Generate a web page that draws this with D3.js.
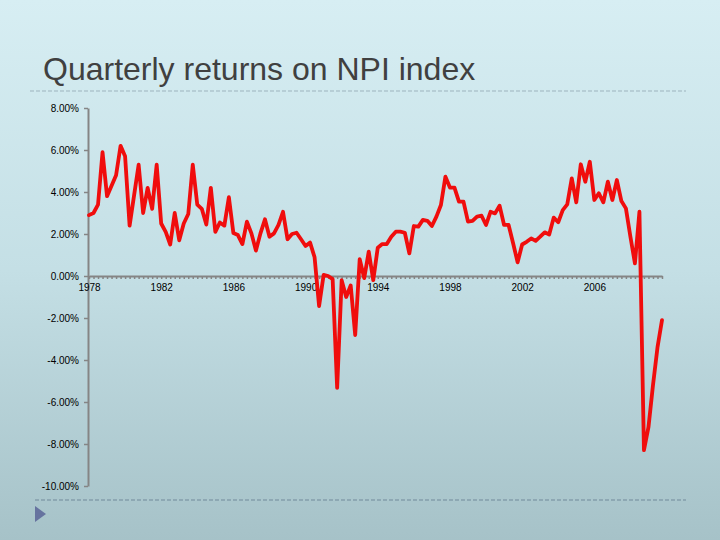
<!DOCTYPE html>
<html>
<head>
<meta charset="utf-8">
<script src="https://cdn.jsdelivr.net/npm/d3@7"></script>
<style>
  html, body { margin: 0; padding: 0; }
  svg { display: block; }
</style>
</head>
<body>
<div id="chart"></div>
<script>
// ---- data ----
const years = d3.range(1978, 2010);
const categories = years.flatMap(y => ["Q1", "Q2", "Q3", "Q4"].map(q => y + q));
const returnsPct = [
  2.9, 3.0, 3.4, 5.9, 3.8, 4.3, 4.8, 6.2, 5.7, 2.4, 3.85, 5.3, 3.0, 4.2, 3.2, 5.3,
  2.5, 2.1, 1.5, 3.0, 1.7, 2.5, 2.95, 5.3, 3.4, 3.2, 2.45, 4.2, 2.1, 2.55, 2.4, 3.75,
  2.05, 1.95, 1.52, 2.59, 2.03, 1.21, 2.03, 2.7, 1.87, 2.03, 2.43, 3.06, 1.75, 2.0, 2.06, 1.75,
  1.43, 1.59, 0.89, -1.43, 0.05, 0.0, -0.15, -5.33, -0.2, -1.0, -0.45, -2.81, 0.8, -0.1, 1.16, -0.2,
  1.35, 1.52, 1.52, 1.87, 2.11, 2.11, 2.06, 1.08, 2.38, 2.35, 2.67, 2.63, 2.38, 2.83, 3.38, 4.73,
  4.21, 4.21, 3.54, 3.54, 2.59, 2.62, 2.83, 2.87, 2.43, 3.06, 2.98, 3.35, 2.43, 2.43, 1.56, 0.65,
  1.5, 1.63, 1.79, 1.67, 1.87, 2.08, 1.98, 2.78, 2.56, 3.14, 3.41, 4.65, 3.51, 5.32, 4.49, 5.44,
  3.62, 3.94, 3.51, 4.49, 3.62, 4.57, 3.57, 3.22, 1.87, 0.6, 3.06, -8.29, -7.2, -5.2, -3.4, -2.1
];
const yTicks = [8, 6, 4, 2, 0, -2, -4, -6, -8, -10];
const xTickCats = ["1978Q1", "1982Q1", "1986Q1", "1990Q1", "1994Q1", "1998Q1", "2002Q1", "2006Q1"];
const xTickLabels = ["1978", "1982", "1986", "1990", "1994", "1998", "2002", "2006"];
const title = "Quarterly returns on NPI index";

// ---- drawing ----
const W = 720, H = 540;
const svg = d3.select("#chart").append("svg").attr("width", W).attr("height", H);

const defs = svg.append("defs");
const grad = defs.append("linearGradient").attr("id", "bg")
  .attr("x1", 0).attr("y1", 0).attr("x2", 0).attr("y2", 1);
grad.append("stop").attr("offset", "0%").attr("stop-color", "#d7eef3");
grad.append("stop").attr("offset", "50%").attr("stop-color", "#c4dfe5");
grad.append("stop").attr("offset", "100%").attr("stop-color", "#a6c2c8");
svg.append("rect").attr("width", W).attr("height", H).attr("fill", "url(#bg)");

const font = "Liberation Sans, Arial, sans-serif";

// title
svg.append("text")
  .attr("x", 43).attr("y", 80)
  .attr("font-family", font)
  .attr("font-size", 32)
  .attr("fill", "#404040")
  .text(title);

// dashed separators
svg.append("line").attr("x1", 30).attr("x2", 686).attr("y1", 91).attr("y2", 91)
  .attr("stroke", "#9db3bd").attr("stroke-width", 1).attr("stroke-dasharray", "4,2");
svg.append("line").attr("x1", 35).attr("x2", 686).attr("y1", 500).attr("y2", 500)
  .attr("stroke", "#71899a").attr("stroke-width", 1).attr("stroke-dasharray", "4,2");
// bullet triangle
svg.append("path").attr("d", "M35,506L46,514L35,522Z").attr("fill", "#66739f");

const x = d3.scalePoint().domain(categories).range([89, 662]);
const y = d3.scaleLinear().domain([-10, 8]).range([486, 108]);

const axisColor = "#858585";

// y axis
const yAxis = svg.append("g").attr("transform", "translate(88,0)")
  .call(d3.axisLeft(y).tickValues(yTicks).tickSize(4).tickSizeOuter(0).tickPadding(5)
    .tickFormat(d => d.toFixed(2) + "%"));
yAxis.select(".domain").attr("stroke", axisColor).attr("stroke-width", 2);
yAxis.selectAll(".tick line").attr("stroke", axisColor).attr("stroke-width", 1.5);
yAxis.selectAll("text").attr("font-family", font).attr("font-size", 10).attr("fill", "#000");

// x axis (comb of category ticks)
const xAxis = svg.append("g").attr("transform", `translate(0,${y(0)})`)
  .call(d3.axisBottom(x).tickValues(categories).tickSize(3).tickSizeOuter(0).tickFormat(""));
xAxis.select(".domain").attr("stroke", axisColor).attr("stroke-width", 2);
xAxis.selectAll(".tick line").attr("stroke", axisColor).attr("stroke-width", 1.5);

// x labels
const xLab = svg.append("g").attr("transform", `translate(0,${y(0)})`)
  .call(d3.axisBottom(x).tickValues(xTickCats).tickSize(0).tickPadding(8)
    .tickFormat((d, i) => xTickLabels[i]));
xLab.select(".domain").remove();
xLab.selectAll("text").attr("font-family", font).attr("font-size", 10).attr("fill", "#000");

// line
const line = d3.line().x((d, i) => x(categories[i])).y(d => y(d));
svg.append("path").datum(returnsPct)
  .attr("d", line)
  .attr("fill", "none")
  .attr("stroke", "#f00d0d")
  .attr("stroke-width", 3.8)
  .attr("stroke-linejoin", "round")
  .attr("stroke-linecap", "round");
</script>
</body>
</html>
